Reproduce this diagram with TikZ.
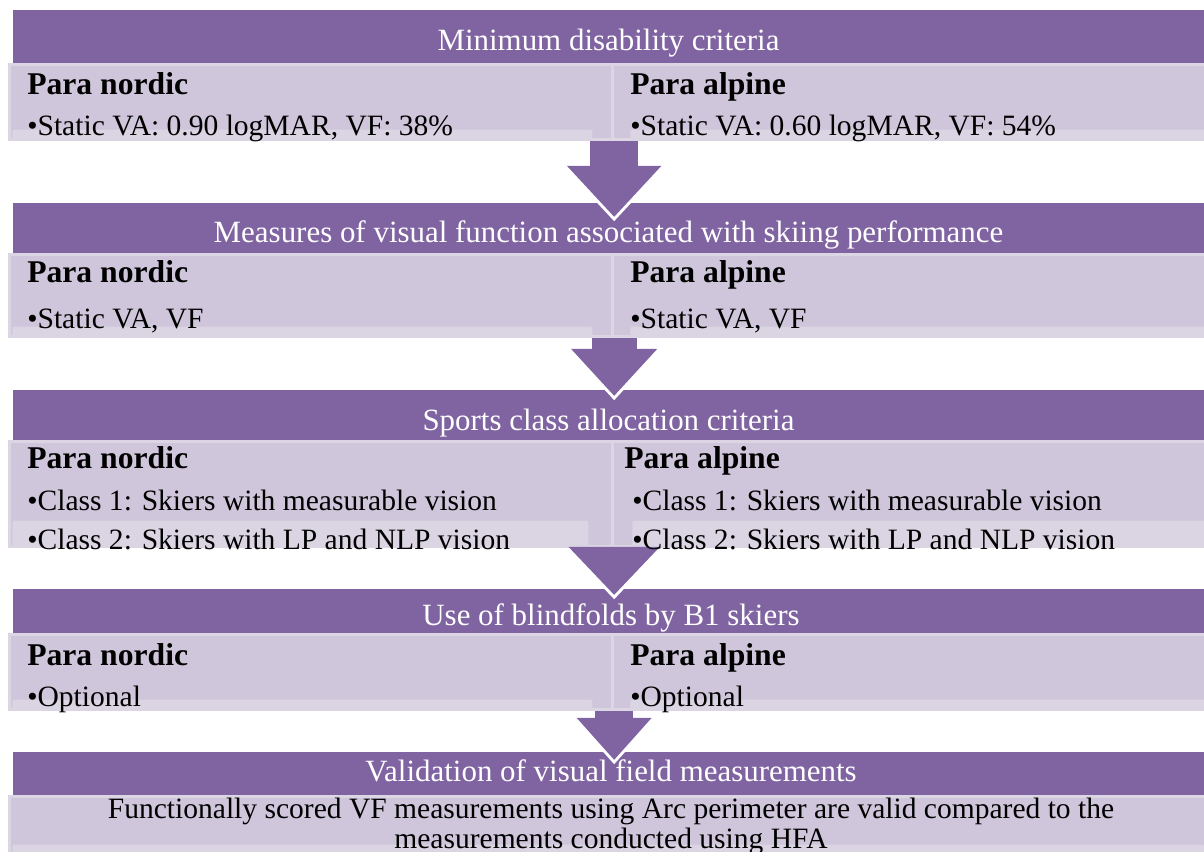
\documentclass[tikz,border=0pt]{standalone}
\usepackage{fontspec}
\setmainfont{Liberation Serif}
\usepackage{xcolor}
\usepackage{tikz}
\usetikzlibrary{arrows.meta, calc}

\definecolor{hdr}{HTML}{8064A2}
\definecolor{panelfill}{HTML}{CFC6DB}
\definecolor{panelrim}{HTML}{DBD5E4}
\definecolor{stripfill}{HTML}{DAD4E3}

\begin{document}
\begin{tikzpicture}[
    x=0.025cm, y=-0.025cm,
    head/.style={
        fill=hdr,
        anchor=north west,
        inner sep=0pt,
        minimum width=29.775cm
    },
    panel/.style={
        fill=panelfill,
        draw=panelrim,
        line width=0.075cm,
        anchor=north west,
        inner sep=0pt
    },
    strip/.style={
        fill=stripfill,
        anchor=south west,
        inner sep=0pt,
        rounded corners=1.5pt
    },
    title/.style={anchor=base, inner sep=0pt, text=white, font=\fontsize{22}{26}\selectfont},
    lab/.style={anchor=base west, inner sep=0pt, font=\fontsize{22.5}{27}\selectfont\bfseries},
    item/.style={anchor=base west, inner sep=0pt, font=\fontsize{21}{25}\selectfont},
    flow/.style n args={3}{
        draw=hdr, line width=#1, -{Triangle[width=#2, length=#3]},
        preaction={draw=white, line width=#1+0.12cm, -{Triangle[width=#2, length=#3]}, shorten >=-0.11cm}
    }
]
\useasboundingbox (0,0) rectangle (1204,852);

% Headers
\node[head, minimum height=1.325cm] (hd1) at (13,10) {};
\node[head, minimum height=1.25cm] (hd2) at (13,203) {};
\node[head, minimum height=1.25cm] (hd3) at (13,390) {};
\node[head, minimum height=1.1cm] (hd4) at (13,589) {};
\node[head, minimum height=1.075cm] (hd5) at (13,752) {};

% Panels
\node[panel, minimum width=15.075cm, minimum height=1.875cm] (p1l) at (8,63) {};
\node[panel, minimum width=14.875cm, minimum height=1.875cm] (p1r) at (611,63) {};
\node[panel, minimum width=15.075cm, minimum height=2.05cm] (p2l) at (8,253) {};
\node[panel, minimum width=14.875cm, minimum height=2.05cm] (p2r) at (611,253) {};
\node[panel, minimum width=15.075cm, minimum height=2.625cm] (p3l) at (8,440) {};
\node[panel, minimum width=14.875cm, minimum height=2.625cm] (p3r) at (611,440) {};
\node[panel, minimum width=15.075cm, minimum height=1.875cm] (p4l) at (8,633) {};
\node[panel, minimum width=14.875cm, minimum height=1.875cm] (p4r) at (611,633) {};
\node[panel, minimum width=29.95cm, minimum height=1.475cm] (p5) at (8,795) {};

% Bullet strips
\node[strip, minimum width=14.5cm, minimum height=0.275cm] (s1l) at ($(p1l.south west)+(4,0)$) {};
\node[strip, minimum width=14.4cm, minimum height=0.275cm] (s1r) at ($(p1r.south west)+(19,0)$) {};
\node[strip, minimum width=14.5cm, minimum height=0.275cm] (s2l) at ($(p2l.south west)+(4,0)$) {};
\node[strip, minimum width=14.4cm, minimum height=0.275cm] (s2r) at ($(p2r.south west)+(19,0)$) {};
\node[strip, minimum width=14.4cm, minimum height=0.675cm] (s3l) at ($(p3l.south west)+(4,0)$) {};
\node[strip, minimum width=14.4cm, minimum height=0.675cm] (s3r) at ($(p3r.south west)+(21,0)$) {};
\node[strip, minimum width=14.5cm, minimum height=0.275cm] (s4l) at ($(p4l.south west)+(4,0)$) {};
\node[strip, minimum width=14.4cm, minimum height=0.275cm] (s4r) at ($(p4r.south west)+(19,0)$) {};
\node[strip, minimum width=29.8cm, minimum height=0.3cm] (s5) at ($(p5.south west)+(4,0)$) {};

% Arrows
\draw[flow={1.2cm}{2.275cm}{1.275cm}] (p1l.south east) -- ($(hd2.north -| p1l.south east)+(0,14)$);
\draw[flow={1.125cm}{2.075cm}{1.175cm}] (p2l.south east) -- ($(hd3.north -| p2l.south east)+(0,6)$);
\draw[flow={1.1cm}{2.2cm}{1.2cm}] (p3l.south east) -- ($(hd4.north -| p3l.south east)+(0,6)$);
\draw[flow={0.95cm}{1.8cm}{1.05cm}] (p4l.south east) -- ($(hd5.north -| p4l.south east)+(0,8)$);

% Band 1
\node[title] (t1) at (608.5,51) {Minimum disability criteria};
\node[lab] (n1) at (27,95) {Para nordic};
\node[item] (n1a) at (27,136) {•Static VA: 0.90 logMAR, VF: 38\%};
\node[lab] (a1) at (630,95) {Para alpine};
\node[item] (a1a) at (630,136) {•Static VA: 0.60 logMAR, VF: 54\%};

% Band 2
\node[title] (t2) at (608.5,243) {Measures of visual function associated with skiing performance};
\node[lab] (n2) at (27,283) {Para nordic};
\node[item] (n2a) at (27,329) {•Static VA, VF};
\node[lab] (a2) at (630,283) {Para alpine};
\node[item] (a2a) at (630,329) {•Static VA, VF};

% Band 3
\node[title] (t3) at (608.5,431) {Sports class allocation criteria};
\node[lab] (n3) at (27,469) {Para nordic};
\node[item] (n3a) at (27,511) {•Class 1: Skiers with measurable vision};
\node[item] (n3b) at (27,549) {•Class 2: Skiers with LP and NLP vision};
\node[lab] (a3) at (624,469) {Para alpine};
\node[item] (a3a) at (632,511) {•Class 1: Skiers with measurable vision};
\node[item] (a3b) at (632,549) {•Class 2: Skiers with LP and NLP vision};

% Band 4
\node[title] (t4) at (611,625) {Use of blindfolds by B1 skiers};
\node[lab] (n4) at (27,665) {Para nordic};
\node[item] (n4a) at (27,706) {•Optional};
\node[lab] (a4) at (630,665) {Para alpine};
\node[item] (a4a) at (630,706) {•Optional};

% Band 5
\node[title] (t5) at (611,781) {Validation of visual field measurements};
\node[item, anchor=base] (v1) at (611,818) {Functionally scored VF measurements using Arc perimeter are valid compared to the};
\node[item, anchor=base] (v2) at (611,848) {measurements conducted using HFA};

\end{tikzpicture}
\end{document}
